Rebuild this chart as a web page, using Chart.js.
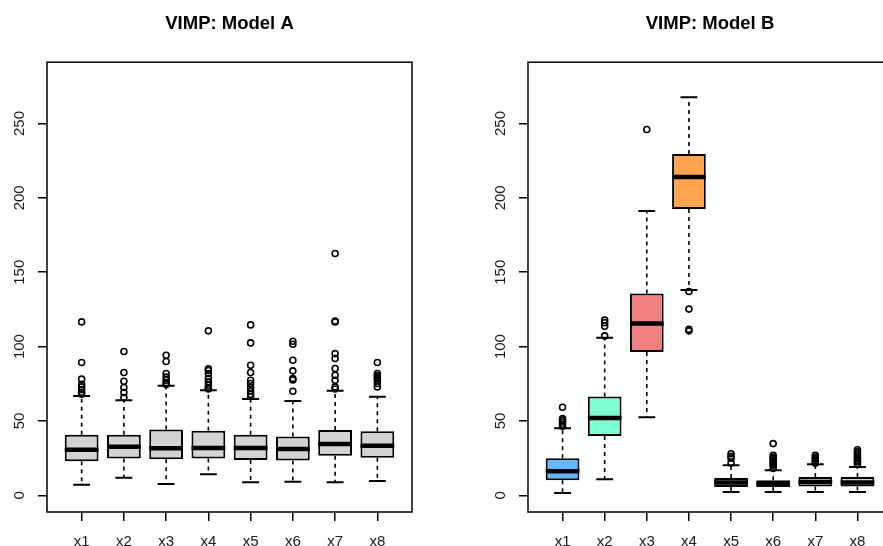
<!DOCTYPE html>
<html>
<head>
<meta charset="utf-8">
<script src="https://cdn.jsdelivr.net/npm/chart.js@4"></script>
<style>
  html, body { margin:0; padding:0; background:#fff; }
  body { width:883px; height:546px; overflow:hidden; position:relative; }
  .panel { position:absolute; top:0; height:546px; }
</style>
</head>
<body>
<div class="panel" style="left:0;width:441px"><canvas id="chartA" width="441" height="546"></canvas></div>
<div class="panel" style="left:441px;width:460px"><canvas id="chartB" width="460" height="546"></canvas></div>
<script>
// ---- data ----
const categories = ['x1','x2','x3','x4','x5','x6','x7','x8'];
const yTicks = [0, 50, 100, 150, 200, 250];

// Model A
const aLow  = [7.2, 11.9, 7.6, 14.2, 8.8, 9.2, 8.8, 9.7];
const aQ1   = [22.9, 24.7, 24.3, 24.7, 23.8, 23.4, 26.7, 25.2];
const aMed  = [30.6, 32.6, 31.7, 31.9, 31.9, 31.2, 34.6, 33.3];
const aQ3   = [40.7, 40.7, 44.3, 43.4, 40.7, 39.6, 44.0, 43.1];
const aHigh = [66.8, 63.9, 73.6, 70.7, 64.8, 63.5, 70.4, 66.2];
const aOut  = [
  [116.6, 89.3, 78.1, 74.7, 72.9, 71.1, 69.3, 68.0],
  [96.7, 82.6, 76.7, 72.5, 69.1, 65.7],
  [94.2, 90.0, 81.9, 79.6, 77.4, 75.6, 74.5],
  [110.6, 85.0, 84.0, 81.9, 78.5, 76.3, 74.0, 72.2, 71.5],
  [114.6, 102.5, 87.5, 82.6, 77.4, 75.2, 72.5, 70.2, 68.0, 66.5],
  [103.6, 101.6, 90.8, 83.7, 78.5, 77.5, 70.0],
  [162.6, 117.1, 116.5, 95.3, 92.0, 85.3, 80.8, 77.4, 72.9, 71.5],
  [89.3, 81.9, 80.5, 79.6, 78.5, 77.4, 75.2, 72.9]
];

// Model B
const bLow  = [1.6, 10.8, 52.5, 138.0, 2.2, 2.2, 2.2, 2.2];
const bQ1   = [10.1, 39.9, 96.4, 192.5, 5.6, 5.6, 6.0, 6.0];
const bMed  = [16.2, 52.0, 115.5, 214.0, 8.7, 7.9, 9.0, 8.7];
const bQ3   = [24.9, 66.4, 135.7, 229.5, 11.7, 10.1, 12.3, 12.3];
const bHigh = [45.1, 105.9, 191.1, 267.6, 20.2, 16.8, 20.9, 19.0];
const bOut  = [
  [59.2, 51.6, 50.5, 49.3, 47.8, 46.5],
  [117.8, 116.0, 113.7, 107.2],
  [246.0],
  [137.0, 125.2, 111.7, 110.6],
  [28.0, 26.2, 25.0, 21.8],
  [34.8, 26.9, 25.5, 24.7, 23.5, 22.4, 21.0, 20.2, 18.2],
  [26.9, 25.5, 24.5, 23.5, 22.4, 21.5],
  [30.7, 29.2, 28.0, 26.9, 25.5, 24.7, 23.5, 22.4, 20.9]
];

// ---- styles ----
const aFill = categories.map(() => '#D3D3D3');
const bFill = ['#63B8FF', '#7FFFD4', '#F08080', '#FFA54F', '#D3D3D3', '#D3D3D3', '#D3D3D3', '#D3D3D3'];
const FONT = '"Liberation Sans", Arial, Helvetica, sans-serif';

const framePlugin = {
  id: 'frame',
  afterDraw(chart) {
    const { ctx, chartArea: a, scales: { y } } = chart;
    ctx.save();
    ctx.strokeStyle = '#000';
    ctx.lineWidth = 1.5;
    ctx.strokeRect(a.left, a.top, a.right - a.left, a.bottom - a.top);
    ctx.fillStyle = '#1a1a1a';
    ctx.font = '15px ' + FONT;
    ctx.textAlign = 'center';
    ctx.textBaseline = 'alphabetic';
    y.ticks.forEach(t => {
      const py = y.getPixelForValue(t.value);
      ctx.save();
      ctx.translate(a.left - 23, py);
      ctx.rotate(-Math.PI / 2);
      ctx.fillText(String(t.value), 0, 0);
      ctx.restore();
    });
    ctx.restore();
  }
};

function makeChart(id, title, low, q1, med, q3, high, out, fills, padLeft, padRight) {
  const boxes = categories.map((c, i) => ({ x: i + 1, y: [q1[i], q3[i]] }));
  const whiskers = [];
  const staples = [];
  const medians = [];
  const outliers = [];
  categories.forEach((c, i) => {
    const x = i + 1;
    whiskers.push({ x, y: q3[i] }, { x, y: high[i] }, { x, y: null },
                  { x, y: q1[i] }, { x, y: low[i] }, { x, y: null });
    staples.push({ x: x - 0.2, y: high[i] }, { x: x + 0.2, y: high[i] }, { x, y: null },
                 { x: x - 0.2, y: low[i] }, { x: x + 0.2, y: low[i] }, { x, y: null });
    medians.push({ x: x - 0.4, y: med[i] }, { x: x + 0.4, y: med[i] }, { x, y: null });
    out[i].forEach(v => outliers.push({ x, y: v }));
  });

  return new Chart(document.getElementById(id), {
    type: 'bar',
    data: {
      datasets: [
        { type: 'bar', data: boxes, backgroundColor: fills, borderColor: '#000',
          borderWidth: 2, borderSkipped: false, categoryPercentage: 1, barPercentage: 0.8, order: 2 },
        { type: 'line', data: whiskers, borderColor: '#000', borderWidth: 1.6,
          borderDash: [4, 4], pointRadius: 0, spanGaps: false, fill: false, order: 3 },
        { type: 'line', data: staples, borderColor: '#000', borderWidth: 2,
          pointRadius: 0, spanGaps: false, fill: false, order: 3 },
        { type: 'line', data: medians, borderColor: '#000', borderWidth: 4.5,
          pointRadius: 0, spanGaps: false, fill: false, order: 0, borderCapStyle: 'butt' },
        { type: 'scatter', data: outliers, pointStyle: 'circle', pointRadius: 3,
          pointBorderWidth: 1.6, borderColor: '#000', backgroundColor: 'rgba(0,0,0,0)',
          pointBackgroundColor: 'rgba(0,0,0,0)', pointBorderColor: '#000', order: 1 }
      ]
    },
    options: {
      responsive: false,
      animation: false,
      devicePixelRatio: 1,
      events: [],
      layout: { padding: { left: padLeft, right: padRight, top: 0, bottom: 0 } },
      plugins: {
        legend: { display: false },
        tooltip: { enabled: false },
        title: {
          display: true, text: title, fullSize: false, color: '#000',
          font: { family: FONT, size: 18.5, weight: 'bold', lineHeight: 1.2 },
          padding: { top: 13, bottom: 27 }
        }
      },
      scales: {
        x: {
          type: 'linear', min: 0.18, max: 8.82, offset: false,
          afterBuildTicks: s => { s.ticks = categories.map((c, i) => ({ value: i + 1 })); },
          afterFit: s => { s.height = 34; },
          ticks: { callback: v => categories[v - 1], color: '#1a1a1a', autoSkip: false,
                   maxRotation: 0, minRotation: 0, padding: 12, font: { family: FONT, size: 15 } },
          grid: { drawOnChartArea: false, drawTicks: true, tickLength: 9, color: '#000',
                  lineWidth: 1.5, offset: false },
          border: { display: false }
        },
        y: {
          type: 'linear', min: -11.2, max: 291.2,
          afterBuildTicks: s => { s.ticks = yTicks.map(v => ({ value: v })); },
          afterFit: s => { s.width = 47; },
          ticks: { display: false },
          grid: { drawOnChartArea: false, drawTicks: true, tickLength: 9, color: '#000', lineWidth: 1.5 },
          border: { display: false }
        }
      }
    },
    plugins: [framePlugin]
  });
}

makeChart('chartA', 'VIMP: Model A', aLow, aQ1, aMed, aQ3, aHigh, aOut, aFill, 0, 29);
makeChart('chartB', 'VIMP: Model B', bLow, bQ1, bMed, bQ3, bHigh, bOut, bFill, 40, 9);
</script>
</body>
</html>
